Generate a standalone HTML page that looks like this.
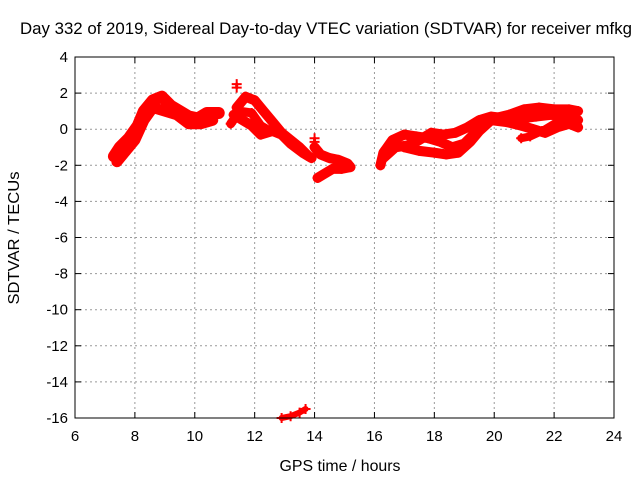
<!DOCTYPE html>
<html><head><meta charset="utf-8"><style>
body{margin:0;background:#fff}
svg{display:block;font-family:"Liberation Sans",sans-serif}
</style></head><body>
<svg id="c" width="640" height="480">
<rect x="0" y="0" width="640" height="480" fill="#fff"/>
<g id="grid"></g>
<g id="series"></g>
<rect x="75" y="57" width="539" height="361" fill="none" stroke="#000" stroke-width="1"/>
<g id="axes"></g>
<text x="326" y="34" font-size="16.5" text-anchor="middle" textLength="612" lengthAdjust="spacingAndGlyphs">Day 332 of 2019, Sidereal Day-to-day VTEC variation (SDTVAR) for receiver mfkg</text>
<text x="340" y="471" font-size="16" text-anchor="middle" textLength="121" lengthAdjust="spacingAndGlyphs">GPS time / hours</text>
<text x="19" y="238" font-size="16" text-anchor="middle" textLength="133" lengthAdjust="spacingAndGlyphs" transform="rotate(-90 19 238)">SDTVAR / TECUs</text>
</svg>
<script>
const xTicks=[6,8,10,12,14,16,18,20,22,24];
const yTicks=[4,2,0,-2,-4,-6,-8,-10,-12,-14,-16];
const bandA1=[[7.3,-1.5],[7.5,-1.0],[7.8,-0.5],[8.1,0.2],[8.3,1.0],[8.6,1.6],[8.9,1.8],[9.2,1.3],[9.5,1.0],[9.8,0.7],[10.1,0.6],[10.4,0.9],[10.8,0.9]];
const bandA2=[[7.4,-1.8],[7.7,-1.2],[8.0,-0.6],[8.3,0.5],[8.6,1.2],[9.0,1.0],[9.4,0.8],[9.8,0.3],[10.2,0.3],[10.6,0.5]];
const bandB1=[[11.4,1.2],[11.7,1.8],[12.0,1.6],[12.3,1.0],[12.6,0.4],[12.9,-0.2],[13.2,-0.6],[13.5,-1.0],[13.8,-1.5]];
const bandB2=[[11.3,0.8],[11.6,0.5],[11.9,0.2],[12.2,-0.3],[12.6,-0.1],[12.9,-0.3],[13.2,-0.8],[13.6,-1.3],[13.9,-1.6]];
const bandB3=[[11.2,0.3],[11.5,1.0],[11.9,0.9],[12.2,0.2],[12.5,-0.1]];
const bandC=[[14.0,-1.0],[14.2,-1.4],[14.5,-1.6],[14.8,-1.7],[15.1,-1.9],[15.2,-2.1],[14.9,-2.2],[14.6,-2.2],[14.3,-2.5],[14.1,-2.7]];
const spikes=[[11.4,2.3],[11.4,2.5],[14.0,-0.5],[14.0,-0.7]];
const bandLow=[[12.9,-16.0],[13.2,-15.9],[13.5,-15.7],[13.7,-15.5]];
const bandD1=[[16.2,-2.0],[16.3,-1.3],[16.6,-0.6],[17.0,-0.3],[17.4,-0.4],[17.8,-0.5],[18.2,-0.7],[18.6,-1.0],[19.0,-0.8],[19.3,-0.3],[19.6,0.3],[20.0,0.6],[20.5,0.8],[21.0,1.1],[21.5,1.2],[22.0,1.1],[22.5,1.1],[22.8,1.0]];
const bandD2=[[16.3,-1.6],[16.7,-1.0],[17.1,-0.9],[17.5,-0.6],[17.9,-0.2],[18.3,-0.3],[18.7,-0.2],[19.1,0.1],[19.5,0.5],[19.9,0.7],[20.4,0.6],[20.9,0.6],[21.4,0.7],[21.9,0.8],[22.4,0.7],[22.8,0.5]];
const bandD3=[[17.0,-1.0],[17.5,-1.2],[18.0,-1.3],[18.4,-1.4],[18.8,-1.3],[19.2,-0.7],[19.5,-0.1],[19.9,0.5],[20.4,0.4],[20.9,0.2],[21.3,0.0],[21.7,-0.2],[22.1,0.1],[22.5,0.3],[22.8,0.1]];
const bandD4=[[20.9,-0.5],[21.2,-0.4],[21.6,-0.1],[22.0,0.3],[22.4,0.6],[22.7,0.9]];
const NS="http://www.w3.org/2000/svg";
const X0=75,X1=614,Y0=418,Y1=57;
function sx(v){return X0+(v-6)/18*(X1-X0);}
function sy(v){return Y0-(v+16)/20*(Y0-Y1);}
function mk(t,a,p){const e=document.createElementNS(NS,t);for(const k in a)e.setAttribute(k,a[k]);p.appendChild(e);return e;}
const grid=document.getElementById('grid'),axes=document.getElementById('axes'),ser=document.getElementById('series');
xTicks.forEach(t=>{const x=sx(t);
 if(t>6&&t<24){const l=mk('line',{x1:x,x2:x,y1:Y1,y2:Y0,stroke:'#999','stroke-dasharray':'2,3'},grid);}
 mk('line',{x1:x,x2:x,y1:Y0,y2:Y0-6,stroke:'#000'},axes);mk('line',{x1:x,x2:x,y1:Y1,y2:Y1+6,stroke:'#000'},axes);
 const tx=mk('text',{x:x,y:Y0+23,'font-size':15,'text-anchor':'middle'},axes);tx.textContent=t;
 });
yTicks.forEach(t=>{const y=sy(t);
 if(t>-16&&t<4){const l=mk('line',{x1:X0,x2:X1,y1:y,y2:y,stroke:'#999','stroke-dasharray':'2,3'},grid);}
 mk('line',{x1:X0,x2:X0+6,y1:y,y2:y,stroke:'#000'},axes);mk('line',{x1:X1,x2:X1-6,y1:y,y2:y,stroke:'#000'},axes);
 const tx=mk('text',{x:X0-7,y:y+5,'font-size':15,'text-anchor':'end'},axes);tx.textContent=t;
 });
function band(pts,name,w){
 const pl=mk('polyline',{points:pts.map(p=>sx(p[0])+','+sy(p[1])).join(' '),fill:'none',stroke:'#f00','stroke-width':w,'stroke-linejoin':'round','stroke-linecap':'round'},ser);
 
 
 pts.forEach(p=>{const x=sx(p[0]),y=sy(p[1]);
  const m=mk('path',{d:`M${x-5},${y}H${x+5}M${x},${y-5}V${y+5}`,stroke:'#f00','stroke-width':2},ser);
  
  });
}
band(bandA1,'band-a1',12);band(bandA2,'band-a2',11);
band(bandB1,'band-b1',10);band(bandB2,'band-b2',10);band(bandB3,'band-b3',9);
band(bandC,'band-c',10);band(spikes.slice(0,2),'spike-11h',3);band(spikes.slice(2),'spike-14h',3);
band(bandLow,'band-low',6);
band(bandD1,'band-d1',10);band(bandD2,'band-d2',10);band(bandD3,'band-d3',10);band(bandD4,'band-d4',8);
</script>
</body></html>
